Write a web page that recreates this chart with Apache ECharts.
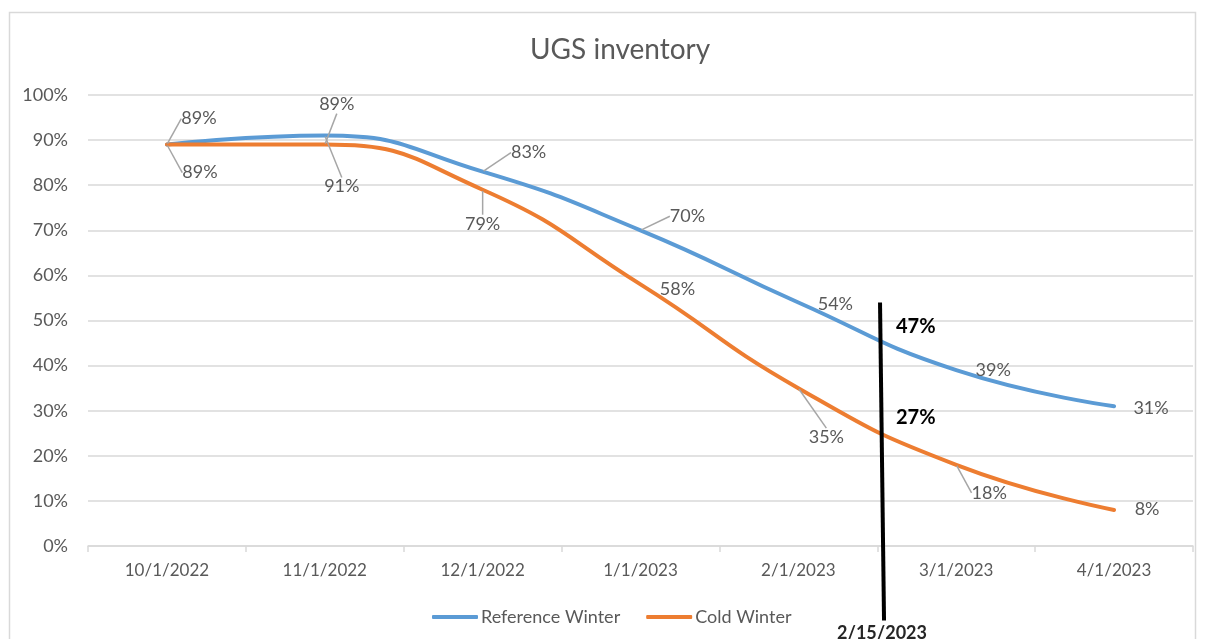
<!DOCTYPE html>
<html>
<head>
<meta charset="utf-8">
<title>UGS inventory</title>
<script src="https://cdn.jsdelivr.net/npm/echarts@6/dist/echarts.min.js"></script>
<style>
  html, body { margin: 0; padding: 0; background: #fff; }
  #main { width: 1208px; height: 639px; }
</style>
</head>
<body>
<div id="main"></div>
<script>
// data
var categories = ['10/1/2022', '11/1/2022', '12/1/2022', '1/1/2023', '2/1/2023', '3/1/2023', '4/1/2023'];
var referenceWinter = [89, 91, 83, 70, 54, 39, 31];
var coldWinter = [89, 89, 79, 58, 35, 18, 8];
var yTicks = [0, 10, 20, 30, 40, 50, 60, 70, 80, 90, 100];

// 2/15/2023 marker (category position between 2/1 and 3/1) and values read there
var markerIndex = 4.53;
var markerLabel = '2/15/2023';
var markerValues = [47, 27];
var markerTop = 54;
var markerBottom = -16.5;

// label offsets (px from the point), like the moved excel labels
var refLabelOffsets = [[32, -26], [17, 51], [46, -19], [47, -14], [37, 2], [37, 0], [37, 2]];
var refLeader = [true, true, true, true, false, false, false];
var coldLabelOffsets = [[33, 28], [12, -40], [0, 34], [37, 5], [28, 49], [33, 28], [33, -1]];
var coldLeader = [true, true, true, false, true, true, false];

var FONT = 'Lato, "Open Sans", sans-serif';
var GRAY = '#595959';

function buildData(values, leader) {
  return values.map(function (v, i) {
    return { value: v, labelLine: { show: leader[i] } };
  });
}

function layoutFor(offsets) {
  return function (params) {
    var r = params.rect;
    var o = offsets[params.dataIndex];
    return {
      x: r.x + r.width / 2 + o[0],
      y: r.y + r.height / 2 + o[1],
      align: 'center',
      verticalAlign: 'middle'
    };
  };
}

var myChart = echarts.init(document.getElementById('main'));

var lineSeries = function (name, values, color, offsets, leader) {
  return {
    name: name,
    type: 'line',
    smooth: 0.5,
    symbol: 'circle',
    symbolSize: 2,
    showSymbol: true,
    itemStyle: { color: color },
    lineStyle: { color: color, width: 4, cap: 'round' },
    data: buildData(values, leader),
    label: {
      show: true,
      formatter: '{c}%',
      color: GRAY,
      fontFamily: FONT,
      fontSize: 18
    },
    labelLine: {
      show: true,
      smooth: false,
      lineStyle: { color: '#A6A6A6', width: 1.5 }
    },
    labelLayout: layoutFor(offsets)
  };
};

myChart.setOption({
  animation: false,
  backgroundColor: '#fff',
  title: {
    text: 'UGS inventory',
    left: 525,
    top: 31,
    textStyle: { color: GRAY, fontFamily: FONT, fontSize: 28, fontWeight: 'normal' }
  },
  grid: { left: 88, right: 15, top: 95, bottom: 93 },
  legend: {
    bottom: 8,
    left: 427,
    itemWidth: 46,
    itemHeight: 4,
    itemGap: 26,
    icon: 'roundRect',
    textStyle: { color: GRAY, fontFamily: FONT, fontSize: 18, padding: [0, 0, 0, -2] },
    data: ['Reference Winter', 'Cold Winter']
  },
  xAxis: {
    type: 'category',
    data: categories,
    boundaryGap: true,
    axisLine: { lineStyle: { color: '#D9D9D9', width: 1.5 } },
    axisTick: { show: true, length: 6, lineStyle: { color: '#D9D9D9', width: 1.5 } },
    axisLabel: { color: GRAY, fontFamily: FONT, fontSize: 17, margin: 16 }
  },
  yAxis: {
    type: 'value',
    min: yTicks[0],
    max: yTicks[yTicks.length - 1],
    interval: yTicks[1] - yTicks[0],
    axisLine: { show: false },
    axisTick: { show: false },
    splitLine: { lineStyle: { color: '#D9D9D9', width: 1.5 } },
    axisLabel: { color: GRAY, fontFamily: FONT, fontSize: 18, margin: 20, formatter: '{value}%' }
  },
  series: [
    lineSeries('Reference Winter', referenceWinter, '#5B9BD5', refLabelOffsets, refLeader),
    lineSeries('Cold Winter', coldWinter, '#ED7D31', coldLabelOffsets, coldLeader)
  ]
});

// marker line + labels, placed through the chart's own scales
function markerPixel(value) {
  var lo = Math.floor(markerIndex);
  var t = markerIndex - lo;
  var a = myChart.convertToPixel({ gridIndex: 0 }, [lo, value]);
  var b = myChart.convertToPixel({ gridIndex: 0 }, [lo + 1, value]);
  return [a[0] + (b[0] - a[0]) * t, a[1]];
}

var lineTop = markerPixel(markerTop);
var lineBottom = markerPixel(markerBottom);
var graphics = [
  {
    type: 'rect',
    shape: { x: 9.5, y: 12.5, width: 1186, height: 640 },
    style: { fill: 'none', stroke: '#D9D9D9', lineWidth: 1.5 },
    z: -1
  },
  {
    type: 'line',
    shape: { x1: lineTop[0] - 2, y1: lineTop[1], x2: lineBottom[0] + 2, y2: lineBottom[1] },
    style: { stroke: '#000', lineWidth: 4 },
    z: 10
  },
  {
    type: 'text',
    x: lineBottom[0],
    y: lineBottom[1] + 13,
    style: {
      text: markerLabel,
      fill: '#262626',
      font: 'bold 18px ' + FONT,
      align: 'center',
      verticalAlign: 'middle'
    },
    z: 10
  }
];
markerValues.forEach(function (v) {
  var p = markerPixel(v);
  graphics.push({
    type: 'text',
    x: p[0] + 14,
    y: p[1] - 7,
    style: {
      text: v + '%',
      fill: '#000',
      font: 'bold 20px ' + FONT,
      align: 'left',
      verticalAlign: 'middle'
    },
    z: 10
  });
});
myChart.setOption({ graphic: graphics });
</script>
</body>
</html>
